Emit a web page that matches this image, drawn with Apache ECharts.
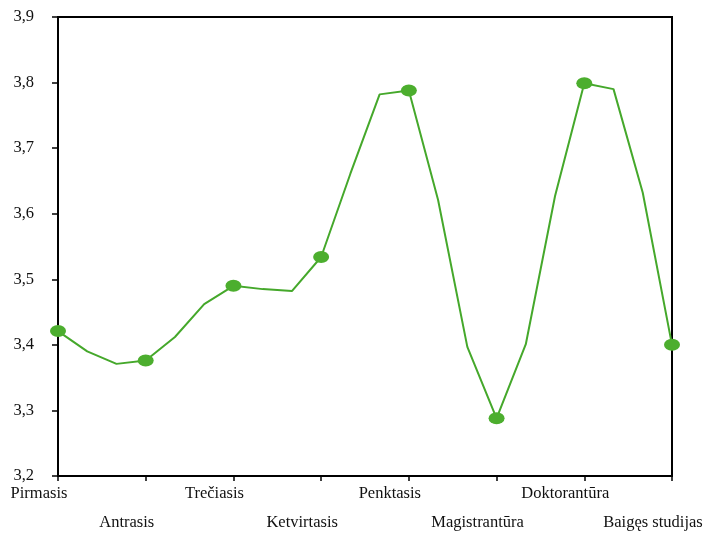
<!DOCTYPE html>
<html lang="lt">
<head>
    <meta charset="UTF-8">
    <title>Vidurkiai</title>
    <script src="https://cdn.jsdelivr.net/npm/echarts@6/dist/echarts.min.js"></script>
    <style>
        * { padding: 0; margin: 0; }
        body { background: #fff; }
    </style>
</head>
<body>
<div id="chart" style="width: 703px;height:533px;"></div>
<script>
    // kategorijos
    var categories = ['Pirmasis', 'Antrasis', 'Trečiasis', 'Ketvirtasis', 'Penktasis', 'Magistrantūra', 'Doktorantūra', 'Baigęs studijas'];
    // reikšmės kategorijų taškuose
    var values = [3.421, 3.376, 3.490, 3.534, 3.788, 3.288, 3.799, 3.400];
    // tarpiniai linijos taškai (1/3 ir 2/3 tarp kategorijų), nuskaityti nuo paveikslo
    var midFirst = [3.390, 3.412, 3.485, 3.661, 3.621, 3.401, 3.790];
    var midSecond = [3.371, 3.462, 3.482, 3.782, 3.397, 3.627, 3.632];
    var yTicks = [3.2, 3.3, 3.4, 3.5, 3.6, 3.7, 3.8, 3.9];

    var lineData = [];
    values.forEach(function (v, i) {
        lineData.push([i, v]);
        if (i < midFirst.length) {
            lineData.push([i + 1 / 3, midFirst[i]]);
            lineData.push([i + 2 / 3, midSecond[i]]);
        }
    });
    var pointData = values.map(function (v, i) { return [i, v]; });

    var chart = echarts.init(document.getElementById('chart'));
    var font = 'Liberation Serif, Times New Roman, serif';

    // dvi x ašys: lyginės etiketės viršutinėje eilutėje, nelyginės apatinėje
    function xAxisRow(odd, margin, showLine) {
        return {
            type: 'value',
            position: 'bottom',
            min: 0, max: categories.length - 1, interval: 1,
            splitLine: { show: false },
            axisLine: { show: showLine, lineStyle: { color: '#000', width: 2 } },
            axisTick: { show: showLine, length: 5, lineStyle: { color: '#000', width: 1.5 } },
            axisLabel: {
                showMinLabel: true, showMaxLabel: true,
                hideOverlap: false,
                margin: margin,
                color: '#111',
                fontFamily: font,
                fontSize: 16.5,
                align: 'center',
                padding: [0, 38, 0, 0],
                formatter: function (v) {
                    var i = Math.round(v);
                    return (i % 2 === 1) === odd ? categories[i] : '';
                }
            }
        };
    }

    var option = {
        animation: false,
        grid: {
            left: 58, right: 31, top: 17, bottom: 57,
            containLabel: false,
            outerBoundsMode: 'none',
            show: true, borderColor: '#000', borderWidth: 2
        },
        xAxis: [xAxisRow(false, 9, true), xAxisRow(true, 38, false)],
        yAxis: {
            type: 'value',
            min: yTicks[0], max: yTicks[yTicks.length - 1], interval: 0.1,
            splitLine: { show: false },
            axisLine: { show: true, lineStyle: { color: '#000', width: 2 } },
            axisTick: { show: true, length: 6, lineStyle: { color: '#000', width: 1.5 } },
            axisLabel: {
                margin: 24,
                color: '#111',
                fontFamily: font,
                fontSize: 16.5,
                formatter: function (v) { return v.toFixed(1).replace('.', ','); }
            }
        },
        series: [{
            type: 'line',
            xAxisIndex: 0,
            data: lineData,
            showSymbol: false,
            symbol: 'none',
            lineStyle: { color: '#45a82b', width: 2 },
            z: 2
        }, {
            type: 'scatter',
            xAxisIndex: 0,
            data: pointData,
            symbol: 'circle',
            symbolSize: [16, 12],
            itemStyle: { color: '#4cae2e', opacity: 1 },
            z: 3
        }]
    };
    chart.setOption(option);
</script>
</body>
</html>
